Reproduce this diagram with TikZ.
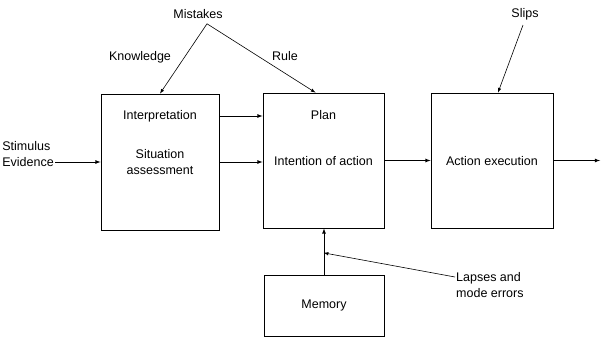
\documentclass[tikz,border=0pt]{standalone}
\usepackage{fontspec}
\setmainfont{Liberation Sans}
\usepackage{tikz}
\usetikzlibrary{arrows,calc,positioning}

\begin{document}
\begin{tikzpicture}[x=1pt,y=-1pt,font=\fontsize{12.5}{15.5}\selectfont]
	  \tikzstyle{stage}=[rectangle,draw=black,line width=0.8pt,inner sep=0pt]
	  \tikzstyle{txt}=[inner sep=1pt,align=center]
	  \tikzstyle{flow}=[-latex,line width=0.8pt]
	  \tikzstyle{hint}=[-latex,line width=0.6pt]

	\useasboundingbox (0,0) rectangle (610,353);

	% the four boxes
	\node (situation)[stage,minimum width=118pt,minimum height=136pt] at (160,162) {};
	\node (intention)[stage,minimum width=121pt,minimum height=135pt] at (323.5,160.5) {};
	\node (action)[stage,minimum width=122pt,minimum height=135pt] at (492,160.5) {};
	\node (memory)[stage,minimum width=120pt,minimum height=61pt] at (324,305.5) {};

	% texts in the boxes
	\node (interp_txt)[txt] at (160,116) {Interpretation};
	\node (situation_txt)[txt] at (160,162) {Situation\\assessment};
	\node (plan_txt)[txt] at (323.5,115) {Plan};
	\node (intention_txt)[txt] at (323.5,161) {Intention of action};
	\node (action_txt)[txt] at (492,161) {Action execution};
	\node (memory_txt)[txt] at (324,305) {Memory};

	% error labels
	\node (mistakes)[txt] at (198,14) {Mistakes};
	\node (knowledge)[txt] at (140,57) {Knowledge};
	\node (rule)[txt] at (285,56) {Rule};
	\node (slips)[txt] at (525,14) {Slips};
	\node (lapses)[txt,align=left,anchor=west] at (455,285) {Lapses and\\mode errors};
	\node (stimulus)[txt,align=left,anchor=east] at (55,154) {Stimulus\\Evidence};

	\coordinate (mistakes_tip) at ([xshift=9pt,yshift=-4pt]mistakes.south);
	\coordinate (out_end) at (600,160.5);
	\coordinate (mem_join) at ($(memory.north)!0.47!(intention.south)$);

	% main flow
	\draw[flow] (stimulus.east |- situation.west) -- (situation.west);
	\draw[flow] (situation.east |- interp_txt) -- (intention.west |- interp_txt);
	\draw[flow] (situation.east) -- (situation.east -| intention.west);
	\draw[flow] (intention.east |- action.west) -- (action.west);
	\draw[flow] (action.east) -- (out_end);
	\draw[flow] (memory.north) -- (intention.south -| memory.north);

	% where the errors come in
	\draw[hint] (mistakes_tip) -- (situation.north);
	\draw[hint] (mistakes_tip) -- ([xshift=-8pt]intention.north);
	\draw[hint] ([xshift=-2pt,yshift=-4pt]slips.south) -- ([xshift=6pt]action.north);
	\draw[hint] ([yshift=8pt]lapses.west) -- (mem_join);

	\end{tikzpicture}
\end{document}
